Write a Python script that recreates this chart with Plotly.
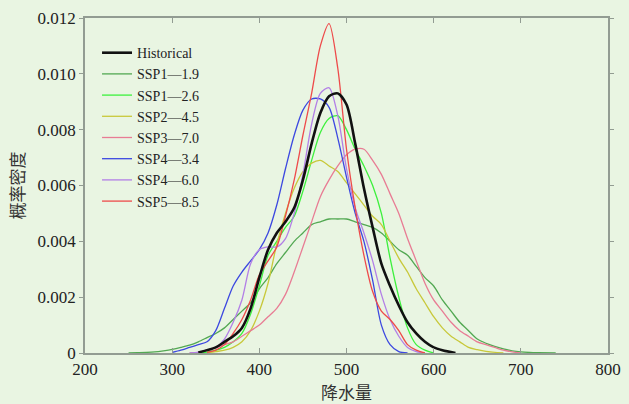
import plotly.graph_objects as go

# x grids (precipitation) and density values
hist_x = [330, 350, 360, 370, 380, 390, 400, 410, 420, 430, 440, 450, 460, 470, 480, 490, 500, 510, 520, 530, 540, 550, 560, 570, 580, 590, 600, 610, 625]
hist_y = [0.00002, 0.0002, 0.0004, 0.0006, 0.0009, 0.0016, 0.0027, 0.0037, 0.0043, 0.0047, 0.0052, 0.0062, 0.0075, 0.0086, 0.0092, 0.0093, 0.0089, 0.0075, 0.0059, 0.0045, 0.0032, 0.0024, 0.0017, 0.0011, 0.0007, 0.0004, 0.0002, 0.0001, 0.0]

s119_x = [250, 260, 270, 280, 290, 300, 310, 320, 330, 340, 350, 360, 370, 380, 390, 400, 410, 420, 430, 440, 450, 460, 470, 480, 490, 500, 510, 520, 530, 540, 550, 560, 570, 580, 590, 600, 610, 620, 630, 640, 650, 660, 670, 680, 690, 700, 710, 720, 740]
s119_y = [0.0, 0.00001, 0.00002, 0.00004, 0.00008, 0.00013, 0.0002, 0.00028, 0.0004, 0.00055, 0.0007, 0.0009, 0.0012, 0.0015, 0.0018, 0.0023, 0.0027, 0.0032, 0.0036, 0.0040, 0.0043, 0.0046, 0.0047, 0.0048, 0.0048, 0.0048, 0.0047, 0.0046, 0.0045, 0.0043, 0.0040, 0.0037, 0.0035, 0.0031, 0.0027, 0.0024, 0.0019, 0.0015, 0.0011, 0.0008, 0.0005, 0.00035, 0.00024, 0.00015, 0.00008, 0.00004, 0.00002, 0.00001, 0.0]

s126_x = [330, 340, 350, 360, 370, 380, 390, 400, 410, 420, 430, 440, 450, 460, 470, 480, 490, 500, 510, 520, 530, 540, 550, 560, 570, 580, 590, 600]
s126_y = [0.0, 0.00003, 0.0001, 0.0002, 0.0004, 0.0007, 0.0014, 0.0024, 0.0035, 0.0040, 0.0045, 0.0049, 0.0058, 0.0069, 0.0079, 0.0084, 0.0085, 0.0080, 0.0073, 0.0067, 0.0060, 0.0050, 0.0034, 0.0020, 0.0009, 0.0003, 0.0001, 0.0]

s245_x = [340, 350, 360, 370, 380, 390, 400, 410, 420, 430, 440, 450, 460, 470, 480, 490, 500, 510, 520, 530, 540, 550, 560, 570, 580, 590, 600, 610, 620, 630, 640, 650, 660, 680]
s245_y = [0.0, 0.00005, 0.0001, 0.0002, 0.0004, 0.0008, 0.0015, 0.0025, 0.0039, 0.0050, 0.0059, 0.0065, 0.0068, 0.0069, 0.0067, 0.0065, 0.0061, 0.0057, 0.0053, 0.0049, 0.0046, 0.0040, 0.0034, 0.0029, 0.0023, 0.0018, 0.0013, 0.0009, 0.0006, 0.0004, 0.0002, 0.00012, 0.00006, 0.0]

s370_x = [320, 330, 340, 350, 360, 370, 380, 390, 400, 410, 420, 430, 440, 450, 460, 470, 480, 490, 500, 510, 520, 530, 540, 550, 560, 570, 580, 590, 600, 610, 620, 630, 640, 650, 660, 670, 680, 690, 700]
s370_y = [0.0, 0.00002, 0.0001, 0.0002, 0.0003, 0.0004, 0.0006, 0.0008, 0.0010, 0.0013, 0.0016, 0.0021, 0.0029, 0.0038, 0.0047, 0.0056, 0.0062, 0.0067, 0.0071, 0.0073, 0.0073, 0.0069, 0.0064, 0.0057, 0.0050, 0.0041, 0.0033, 0.0025, 0.0019, 0.0015, 0.0011, 0.0008, 0.0006, 0.0004, 0.0003, 0.0002, 0.0001, 0.00004, 0.0]

s434_x = [300, 310, 320, 330, 340, 350, 360, 370, 380, 390, 400, 410, 420, 430, 440, 450, 460, 470, 480, 490, 500, 510, 520, 530, 540, 550, 560, 570]
s434_y = [0.00002, 0.0001, 0.0002, 0.0003, 0.0004, 0.0008, 0.0016, 0.0024, 0.0029, 0.0033, 0.0037, 0.0043, 0.0053, 0.0066, 0.0078, 0.0087, 0.0091, 0.0091, 0.0088, 0.0077, 0.0063, 0.0050, 0.0040, 0.0026, 0.0010, 0.0003, 0.00005, 0.0]

s460_x = [320, 330, 340, 350, 360, 370, 380, 390, 400, 410, 420, 430, 440, 450, 460, 470, 480, 490, 500, 510, 520, 530, 540, 550, 560, 570, 580, 590]
s460_y = [0.0, 0.00003, 0.0001, 0.0002, 0.0005, 0.0011, 0.0019, 0.0032, 0.0037, 0.0038, 0.0038, 0.0041, 0.0050, 0.0064, 0.0082, 0.0093, 0.0095, 0.0085, 0.0066, 0.0052, 0.0043, 0.0033, 0.0021, 0.0012, 0.0006, 0.0002, 0.00005, 0.0]

s585_x = [340, 350, 360, 370, 380, 390, 400, 410, 420, 430, 440, 450, 460, 470, 480, 490, 500, 510, 520, 530, 540, 550, 560, 570, 580, 590]
s585_y = [0.00002, 0.0001, 0.0003, 0.0007, 0.0012, 0.0019, 0.0028, 0.0033, 0.0038, 0.0049, 0.0062, 0.0078, 0.0093, 0.0110, 0.0118, 0.0102, 0.0073, 0.0052, 0.0035, 0.0022, 0.0015, 0.0012, 0.0008, 0.0003, 0.0001, 0.0]

names = ["Historical", "SSP1—1.9", "SSP1—2.6", "SSP2—4.5", "SSP3—7.0", "SSP4—3.4", "SSP4—6.0", "SSP5—8.5"]
xs = [hist_x, s119_x, s126_x, s245_x, s370_x, s434_x, s460_x, s585_x]
ys = [hist_y, s119_y, s126_y, s245_y, s370_y, s434_y, s460_y, s585_y]
colors = ["#111111", "#52A852", "#3CF03C", "#C8C83A", "#E87C94", "#3C48E0", "#B27FE6", "#EE4A4A"]
widths = [2.6, 1.3, 1.3, 1.3, 1.3, 1.3, 1.3, 1.3]

x_ticks = [200, 300, 400, 500, 600, 700, 800]
y_ticks = [0, 0.002, 0.004, 0.006, 0.008, 0.010, 0.012]
y_ticktext = ["0", "0.002", "0.004", "0.006", "0.008", "0.010", "0.012"]

fig = go.Figure()
# coloured curves first, black drawn on top
order = [1, 2, 3, 4, 5, 6, 7, 0]
for i in order:
    fig.add_trace(go.Scatter(x=xs[i], y=ys[i], mode="lines", name=names[i],
                             line=dict(color=colors[i], width=widths[i], shape="spline", smoothing=0.8),
                             legendrank=i + 1))

bg = "#E9F5E2"
axis_col = "#929C92"
serif = "Liberation Serif, DejaVu Serif, serif"
cjk = "Noto Sans CJK SC"
fig.update_layout(
    width=629, height=404,
    margin=dict(l=85, r=21, t=18, b=51),
    paper_bgcolor=bg, plot_bgcolor=bg,
    font=dict(family=serif, size=17, color="#222222"),
    showlegend=True,
    legend=dict(x=0.023, y=0.943, xanchor="left", yanchor="top",
                bgcolor="rgba(0,0,0,0)", borderwidth=0,
                font=dict(family=serif, size=14, color="#222222"),
                tracegroupgap=0),
)
fig.update_xaxes(range=[200, 800], tickvals=x_ticks, ticks="inside", ticklen=5,
                 tickcolor=axis_col, showline=True, linecolor=axis_col, linewidth=1.5,
                 mirror="ticks", showgrid=False, zeroline=False, automargin=False,
                 tickfont=dict(family=serif, size=17, color="#222222"),
                 title=dict(text="降水量", font=dict(family=cjk, size=17, color="#333333"), standoff=12))
fig.update_yaxes(range=[0, 0.012], tickvals=y_ticks, ticktext=y_ticktext, ticks="outside", ticklen=4,
                 tickcolor=axis_col, showline=True, linecolor=axis_col, linewidth=1.5,
                 mirror="ticks", showgrid=False, zeroline=False, automargin=False,
                 tickfont=dict(family=serif, size=17, color="#222222"),
                 title=dict(text="概率密度", font=dict(family=cjk, size=17, color="#333333"), standoff=9))

fig.write_html("out.html", config={"displayModeBar": False},
               post_script="document.body.style.margin='0';document.body.style.background='%s';" % bg)
